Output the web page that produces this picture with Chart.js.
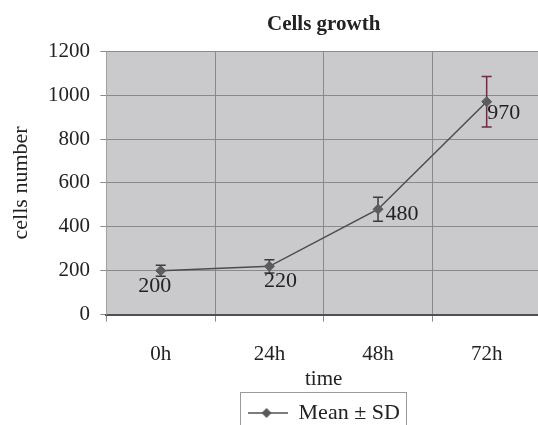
<!DOCTYPE html>
<html>
<head>
<meta charset="utf-8">
<title>Cells growth</title>
<script src="https://cdn.jsdelivr.net/npm/chart.js@4.4.1/dist/chart.umd.min.js"></script>
<style>
  html, body { margin: 0; padding: 0; background: #fff; overflow: hidden; }
  #wrap { width: 538px; height: 425px; overflow: hidden; }
  canvas { display: block; }
</style>
</head>
<body>
<div id="wrap"><canvas id="growthChart" width="548" height="440"></canvas></div>
<script>
// values
const timeLabels = ['0h', '24h', '48h', '72h'];
const meanValues = [200, 220, 480, 970];
const sdValues = [25, 30, 55, 115];
const yTickValues = [0, 200, 400, 600, 800, 1000, 1200];

const serif = '"Liberation Serif", "Times New Roman", serif';
const textColor = '#222';
const gridColor = '#8a8a8c';

// little line + diamond used as the legend symbol
const legendMark = document.createElement('canvas');
legendMark.width = 40;
legendMark.height = 12;
(function() {
    const c = legendMark.getContext('2d');
    c.strokeStyle = '#505050';
    c.lineWidth = 1.5;
    c.beginPath();
    c.moveTo(0, 6);
    c.lineTo(40, 6);
    c.stroke();
    c.fillStyle = '#5a5a5e';
    c.beginPath();
    c.moveTo(19, 1);
    c.lineTo(24, 6);
    c.lineTo(19, 11);
    c.lineTo(14, 6);
    c.closePath();
    c.fill();
})();

// grey plot background
const plotBackground = {
    id: 'plotBackground',
    beforeDraw(chart) {
        const { ctx, chartArea } = chart;
        ctx.save();
        ctx.fillStyle = '#cacacd';
        ctx.fillRect(chartArea.left, chartArea.top, chartArea.right - chartArea.left, chartArea.bottom - chartArea.top);
        ctx.restore();
    }
};

// mean ± SD whiskers
const errorBars = {
    id: 'errorBars',
    beforeDatasetsDraw(chart) {
        const { ctx } = chart;
        const y = chart.scales.y;
        const meta = chart.getDatasetMeta(0);
        const colors = ['#3a3a3c', '#3a3a3c', '#3a3a3c', '#6c2c40'];
        ctx.save();
        ctx.lineWidth = 1.5;
        meta.data.forEach(function(pt, i) {
            const top = y.getPixelForValue(meanValues[i] + sdValues[i]);
            const bottom = y.getPixelForValue(meanValues[i] - sdValues[i]);
            const half = 5;
            ctx.strokeStyle = colors[i];
            ctx.beginPath();
            ctx.moveTo(pt.x, top);
            ctx.lineTo(pt.x, bottom);
            ctx.moveTo(pt.x - half, top);
            ctx.lineTo(pt.x + half, top);
            ctx.moveTo(pt.x - half, bottom);
            ctx.lineTo(pt.x + half, bottom);
            ctx.stroke();
        });
        ctx.restore();
    }
};

// value labels next to the points
const valueLabels = {
    id: 'valueLabels',
    afterDatasetsDraw(chart) {
        const { ctx } = chart;
        const meta = chart.getDatasetMeta(0);
        const offsets = [[-6, 16], [11, 15], [24, 5], [17, 12]];
        ctx.save();
        ctx.font = '22px ' + serif;
        ctx.fillStyle = textColor;
        ctx.textAlign = 'center';
        ctx.textBaseline = 'middle';
        meta.data.forEach(function(pt, i) {
            ctx.fillText(String(meanValues[i]), pt.x + offsets[i][0], pt.y + offsets[i][1]);
        });
        ctx.restore();
    }
};

// frame around the legend entry
const legendFrame = {
    id: 'legendFrame',
    afterDraw(chart) {
        const boxes = chart.legend && chart.legend.legendHitBoxes;
        if (!boxes || !boxes.length) return;
        const b = boxes[0];
        const { ctx } = chart;
        ctx.save();
        ctx.strokeStyle = '#9a9a9a';
        ctx.lineWidth = 1;
        ctx.strokeRect(Math.round(b.left - 8) + 0.5, Math.round(b.top - 10) + 0.5, Math.round(b.width + 14), Math.round(b.height + 20));
        ctx.restore();
    }
};

new Chart(document.getElementById('growthChart'), {
    type: 'line',
    data: {
        labels: timeLabels,
        datasets: [{
            label: 'Mean ± SD',
            data: meanValues,
            borderColor: '#4c4c4e',
            borderWidth: 1.5,
            tension: 0,
            pointStyle: 'rectRot',
            pointRadius: 5,
            pointBackgroundColor: '#5c5c60',
            pointBorderColor: '#5c5c60',
            pointBorderWidth: 1
        }]
    },
    options: {
        responsive: false,
        animation: false,
        layout: {
            padding: { left: 8, right: 7, top: 4, bottom: 6 }
        },
        plugins: {
            title: {
                display: true,
                text: 'Cells growth',
                fullSize: false,
                color: textColor,
                font: { family: serif, size: 21, weight: 'bold' },
                padding: { top: 8, bottom: 14 }
            },
            legend: {
                display: true,
                position: 'bottom',
                fullSize: false,
                labels: {
                    usePointStyle: true,
                    pointStyle: legendMark,
                    pointStyleWidth: 40,
                    color: textColor,
                    font: { family: serif, size: 22 },
                    padding: 6
                }
            },
            tooltip: { enabled: false }
        },
        scales: {
            x: {
                type: 'category',
                offset: true,
                grid: {
                    offset: true,
                    color: gridColor,
                    lineWidth: 1,
                    tickLength: 7,
                    drawTicks: true
                },
                border: { display: true, color: '#505052', width: 2 },
                ticks: {
                    color: textColor,
                    font: { family: serif, size: 21 },
                    padding: 20,
                    maxRotation: 0
                },
                title: {
                    display: true,
                    text: 'time',
                    color: textColor,
                    font: { family: serif, size: 21 },
                    // tick padding is counted twice in the axis height, so pull the title box back
                    padding: { top: -20, bottom: 4 }
                }
            },
            y: {
                min: yTickValues[0],
                max: yTickValues[yTickValues.length - 1],
                ticks: {
                    stepSize: yTickValues[1] - yTickValues[0],
                    color: textColor,
                    font: { family: serif, size: 21 },
                    padding: 10.5,
                    callback: function(value) {
                        return String(value);
                    }
                },
                grid: {
                    color: gridColor,
                    lineWidth: 1,
                    tickLength: 6
                },
                border: { display: true, color: '#a0a0a2', width: 1 },
                title: {
                    display: true,
                    text: 'cells number',
                    color: textColor,
                    font: { family: serif, size: 22 },
                    padding: { top: 0, bottom: 3 }
                }
            }
        }
    },
    plugins: [plotBackground, errorBars, valueLabels, legendFrame]
});
</script>
</body>
</html>
